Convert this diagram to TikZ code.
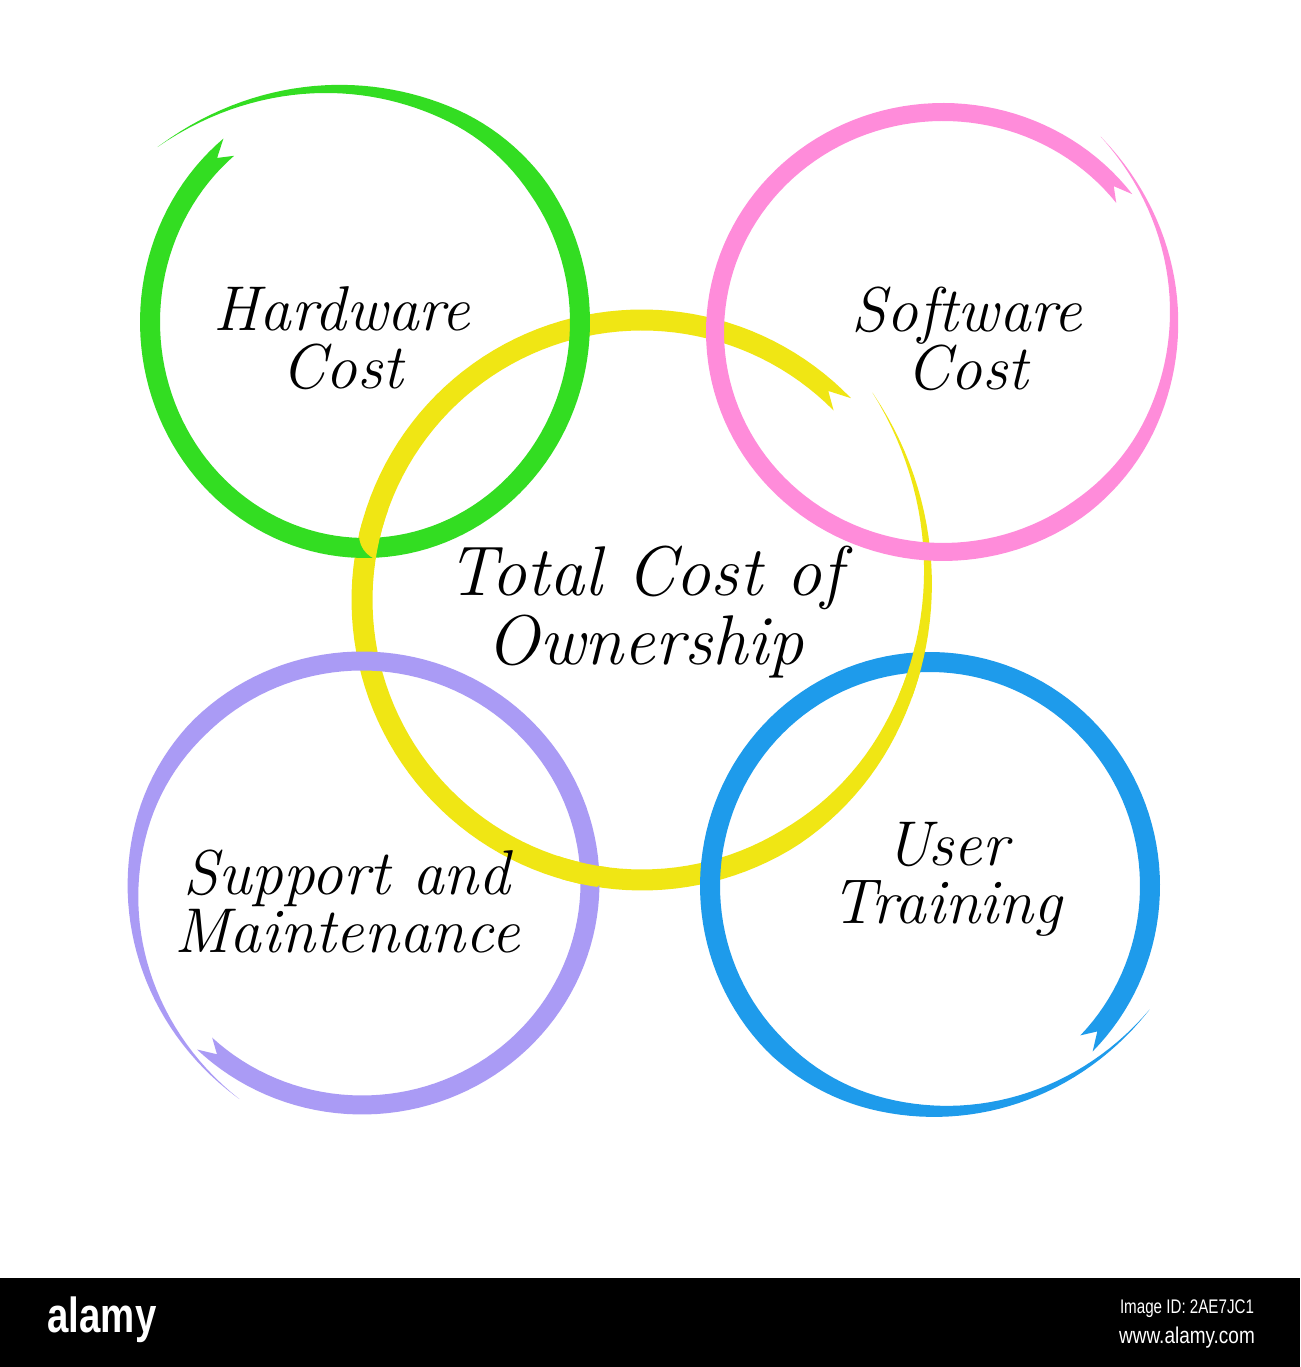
\documentclass[tikz,border=0pt]{standalone}
\usepackage{fontspec}
\usepackage{xcolor}
\usepackage{graphicx}
\usepackage{tikz}
\usetikzlibrary{positioning}

\newfontfamily\barfont{Liberation Sans}

\definecolor{hwgreen}{HTML}{33DD22}
\definecolor{swpink}{HTML}{FF8CDA}
\definecolor{tcoyellow}{HTML}{F0E614}
\definecolor{suppurple}{HTML}{AA9BF5}
\definecolor{utblue}{HTML}{1E9BEB}

% brush ring: cx, cy, rx, ry, start angle, end angle, width, flare, colour
\newcommand{\brushring}[9]{%
  \fill[#9] plot[domain=0:1, samples=150, variable=\t]
      ({#1+(#3+#8*fl(\t)+#7*bw(\t)/2)*cos(#5+\t*(#6-#5))},
       {#2+(#4+#8*fl(\t)+#7*bw(\t)/2)*sin(#5+\t*(#6-#5))})
    -- plot[domain=1:0, samples=150, variable=\t]
      ({#1+(#3+#8*fl(\t)-#7*bw(\t)/2)*cos(#5+\t*(#6-#5))},
       {#2+(#4+#8*fl(\t)-#7*bw(\t)/2)*sin(#5+\t*(#6-#5))})
    -- ({#1+#3*cos(#5+0.012*(#6-#5))},{#2+#4*sin(#5+0.012*(#6-#5))})
    -- cycle;
}

\tikzset{
  ringtext/.style={align=center, font=\fontsize{18}{16.5}\selectfont\itshape},
}

\begin{document}
\begin{tikzpicture}[x=0.01cm, y=0.01cm,
    declare function={bw(\u)=min(1,(1-\u)/0.28); fl(\u)=max(0,(\u-0.8)/0.2)^2;}]
    \useasboundingbox (0,0) rectangle (1300,1367);
    \fill[white] (0,0) rectangle (1300,1367);

    % rings
    \brushring{642}{767}{280}{280}{44}{402}{21}{30}{tcoyellow}
    \brushring{365}{1045}{215}{226}{129}{501}{20}{52}{hwgreen}
    \brushring{943}{1035}{228}{220}{37}{412}{18}{28}{swpink}
    \brushring{362}{484}{228}{222}{226}{601}{19}{25}{suppurple}
    \brushring{930}{481}{220}{224}{315}{691}{20}{31}{utblue}

    % yellow on top where it crosses over
    \foreach \px/\py in {385/832, 583/502, 908/695} {
        \begin{scope}
            \clip (\px,\py) circle (26);
            \brushring{642}{767}{280}{280}{44}{402}{21}{30}{tcoyellow}
        \end{scope}
    }

    % labels
    \node[ringtext] (hw) at (342,1029) {Hardware\\Cost};
    \node[ringtext] (sw) at (967,1028) {Software\\Cost};
    \node[ringtext, font=\fontsize{20}{19.5}\selectfont\itshape] (tco) at (645,755) {Total Cost of\\Ownership};
    \node[ringtext] (sup) at (347,465) {Support and\\Maintenance};
    \node[ringtext] (ut) at (947,488) {User\\Training};

    % bottom bar
    \fill[black] (0,0) rectangle (1300,89);
    \node[text=white, font=\barfont\fontsize{14}{14}\selectfont\bfseries] (logo) at (102,47) {\scalebox{0.78}[1]{alamy}};
    \node[text=white, font=\barfont\fontsize{5.6}{6}\selectfont] (imgid) at (1187,58) {\scalebox{0.77}[1]{Image ID: 2AE7JC1}};
    \node[text=white, font=\barfont\fontsize{6.5}{7}\selectfont] (site) at (1187,29) {\scalebox{0.83}[1]{www.alamy.com}};
\end{tikzpicture}
\end{document}
